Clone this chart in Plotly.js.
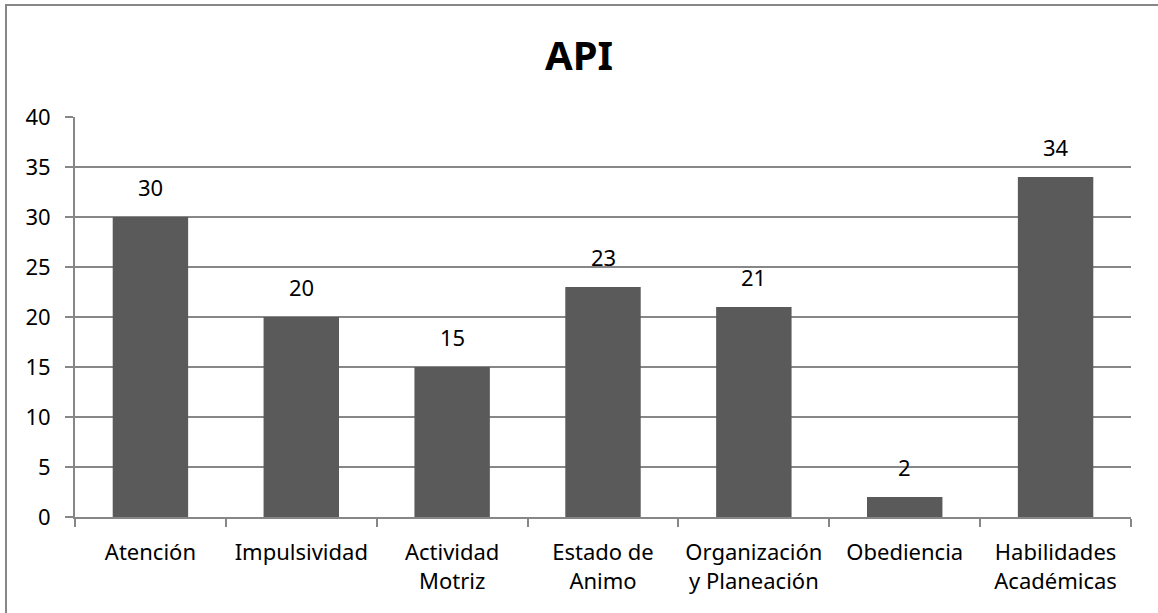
<!DOCTYPE html>
<html>
<head>
<meta charset="utf-8">
<script src="https://cdn.plot.ly/plotly-3.0.1.min.js"></script>
<style>
  html, body { margin: 0; padding: 0; background: #ffffff; }
  #wrap { position: relative; width: 1158px; height: 613px; overflow: hidden; }
  #frame { position: absolute; left: 5px; top: 4px; width: 1200px; height: 700px;
           border-left: 2px solid #878787; border-top: 2px solid #878787; }
  #chart { position: absolute; left: 0; top: 0; width: 1158px; height: 613px; }
</style>
</head>
<body>
<div id="wrap">
  <div id="frame"></div>
  <div id="chart"></div>
</div>
<script>
const categories = ["Atención", "Impulsividad", "Actividad<br>Motriz", "Estado de<br>Animo",
                    "Organización<br>y Planeación", "Obediencia", "Habilidades<br>Académicas"];
const values = [30, 20, 15, 23, 21, 2, 34];
const yTicks = [0, 5, 10, 15, 20, 25, 30, 35, 40];

const FONT = "'Noto Sans', 'Open Sans', sans-serif";

const trace = {
  type: "bar",
  x: categories,
  y: values,
  marker: { color: "#5a5a5a", line: { width: 0 } },
  hoverinfo: "none"
};

const annotations = categories.map((c, i) => ({
  x: c, y: values[i], xref: "x", yref: "y",
  text: String(values[i]), showarrow: false,
  yanchor: "bottom", yshift: 13,
  font: { family: FONT, size: 22, color: "#000000" }
}));

const layout = {
  width: 1158, height: 613,
  paper_bgcolor: "rgba(0,0,0,0)",
  plot_bgcolor: "rgba(0,0,0,0)",
  margin: { l: 75, r: 27, t: 117, b: 96 },
  title: {
    text: "<b>API</b>",
    font: { family: FONT, size: 40, color: "#000000" },
    x: 0.5, xanchor: "center",
    y: 1 - 56 / 613, yref: "container", yanchor: "middle"
  },
  bargap: 0.5,
  showlegend: false,
  xaxis: {
    type: "category",
    tickson: "boundaries",
    ticks: "outside", ticklen: 8, tickwidth: 2, tickcolor: "#878787",
    showline: true, linecolor: "#878787", linewidth: 2,
    showgrid: false,
    tickfont: { family: FONT, size: 22, color: "#000000" },
    ticklabelstandoff: 15
  },
  yaxis: {
    range: [0, 40],
    tickvals: yTicks,
    ticktext: yTicks.map(String),
    ticks: "outside", ticklen: 8, tickwidth: 2, tickcolor: "#878787",
    showline: true, linecolor: "#878787", linewidth: 2,
    showgrid: true, gridcolor: "#878787", gridwidth: 2,
    zeroline: false,
    tickfont: { family: FONT, size: 22, color: "#000000" },
    ticklabelstandoff: 10
  },
  annotations: annotations
};

Plotly.newPlot("chart", [trace], layout, { displayModeBar: false, staticPlot: true });
</script>
</body>
</html>
